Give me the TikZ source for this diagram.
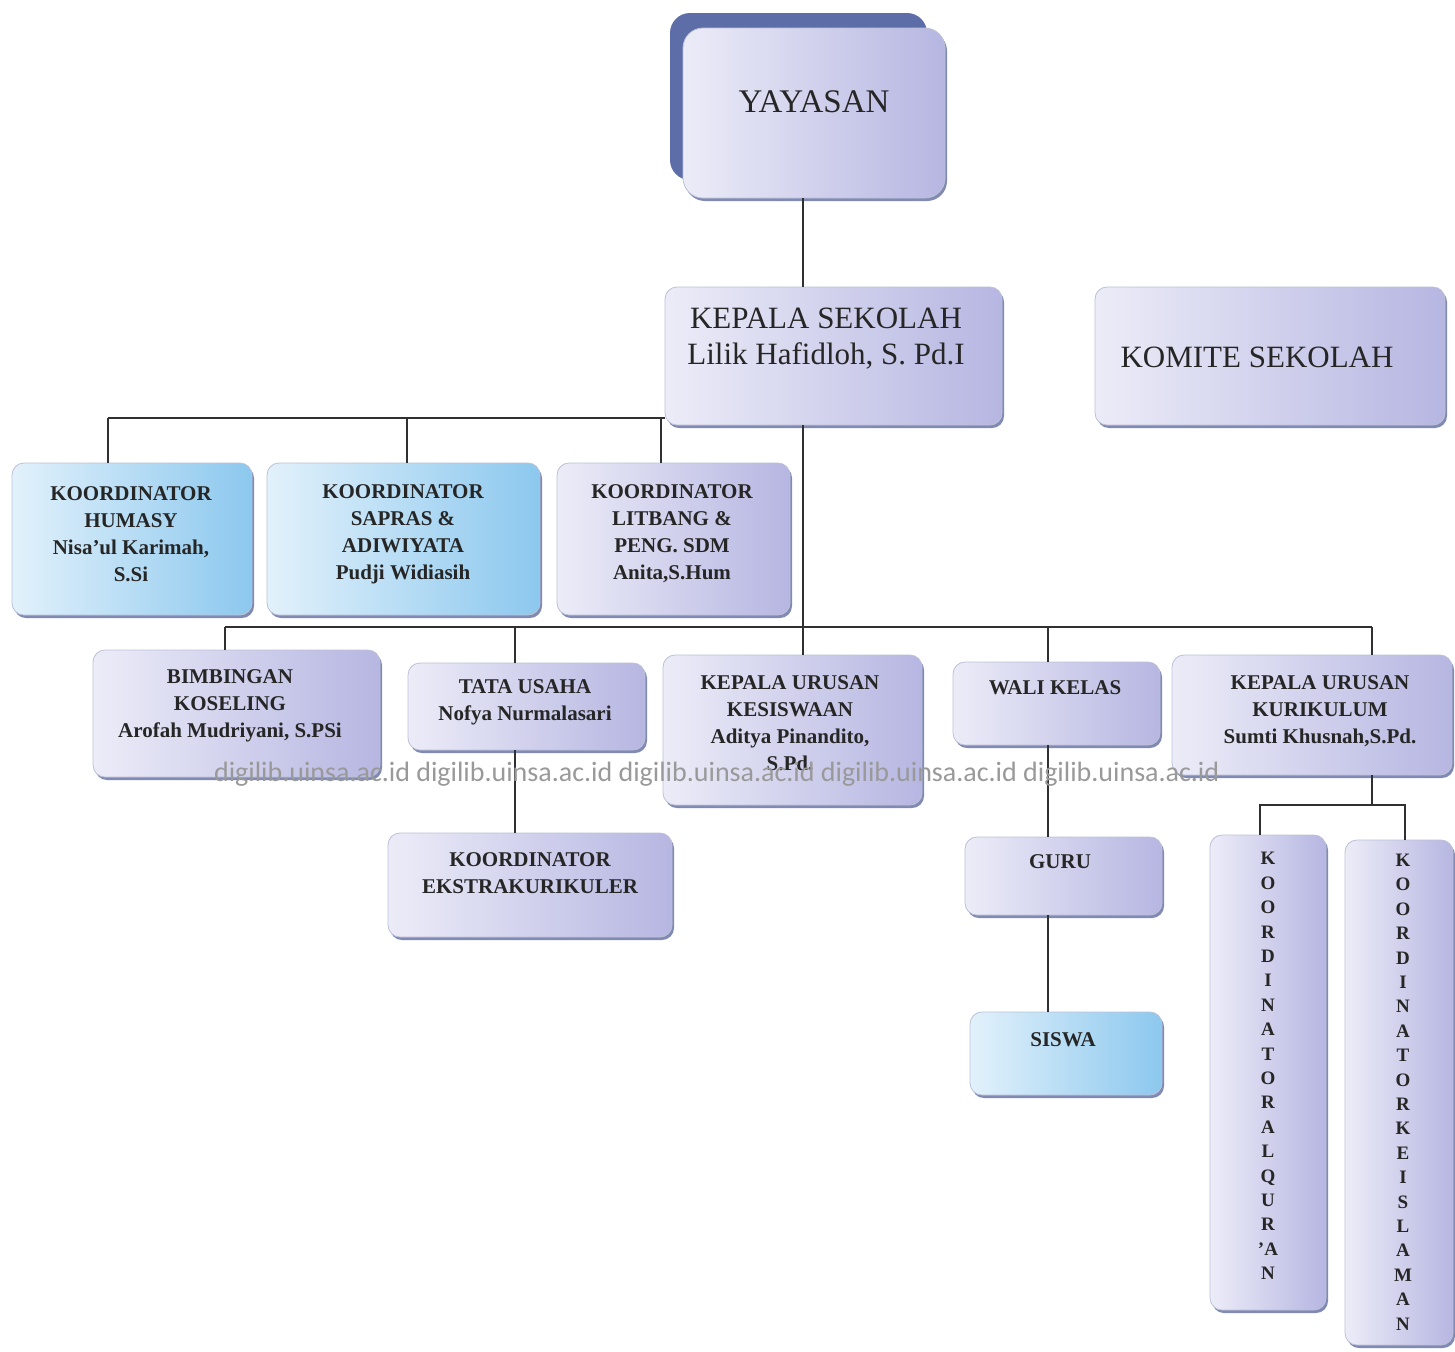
\documentclass[tikz,border=0pt]{standalone}
\usepackage{fontspec}
\setmainfont{Liberation Serif}
\newfontfamily\wmfont{Carlito}
\usetikzlibrary{shadows}
\definecolor{lavL}{HTML}{ECECF8}
\definecolor{lavR}{HTML}{B6B6E2}
\definecolor{bluL}{HTML}{E2F1FB}
\definecolor{bluR}{HTML}{8CC8EE}
\definecolor{shad}{HTML}{6A76A6}
\definecolor{yayback}{HTML}{5D6DA8}
\definecolor{conn}{HTML}{303030}
\begin{document}
\begin{tikzpicture}[x=0.5pt,y=-0.5pt,
  box/.style={rounded corners=6pt, draw=shad!45, line width=0.4pt, inner sep=0pt,
    drop shadow={shadow xshift=1pt,shadow yshift=-1.5pt,fill=shad,opacity=0.85}},
  lav/.style={box, left color=lavL, right color=lavR},
  sky/.style={box, left color=bluL, right color=bluR},
  txt/.style={align=center, font=\bfseries\fontsize{10.5}{13.5}\selectfont, text=black!85},
  big/.style={align=center, font=\fontsize{15.5}{18}\selectfont, text=black!85},
  vert/.style={align=center, font=\bfseries\fontsize{9.5}{12.2}\selectfont, text=black!85},
  link/.style={draw=conn, line width=1pt},
  wm/.style={font=\wmfont\fontsize{14}{16}\selectfont, text=black!40}]
\fill[white] (0,0) rectangle (1455,1351);
\useasboundingbox (0,0) rectangle (1455,1351);

% boxes
\node[rounded corners=10pt, fill=yayback, minimum width=128.5pt, minimum height=83.5pt] (yayback) at (798.5,96.5) {};
\node[lav, rounded corners=10pt, minimum width=131pt, minimum height=85pt] (yayasan) at (814,113) {};
\node[lav, minimum width=168.5pt, minimum height=69pt] (kepala) at (833.5,356) {};
\node[lav, minimum width=175pt, minimum height=69pt] (komite) at (1270,356) {};
\node[sky, minimum width=120pt, minimum height=76pt] (humasy) at (132,539) {};
\node[sky, minimum width=136.5pt, minimum height=76pt] (sapras) at (403.5,539) {};
\node[lav, minimum width=116.5pt, minimum height=76pt] (litbang) at (673.5,539) {};
\node[lav, minimum width=143.5pt, minimum height=63.5pt] (bimbingan) at (236.5,713.5) {};
\node[lav, minimum width=118.5pt, minimum height=43.5pt] (tatausaha) at (526.5,706.5) {};
\node[lav, minimum width=129.5pt, minimum height=75pt] (kesiswaan) at (792.5,730) {};
\node[lav, minimum width=103.5pt, minimum height=41.5pt] (walikelas) at (1056.5,703.5) {};
\node[lav, minimum width=140pt, minimum height=60pt] (kurikulum) at (1312,715) {};
\node[lav, minimum width=142pt, minimum height=52pt] (ekstra) at (530,885) {};
\node[lav, minimum width=98.5pt, minimum height=39pt] (guru) at (1063.5,876) {};
\node[sky, minimum width=96pt, minimum height=41.5pt] (siswa) at (1066,1053.5) {};
\node[lav, minimum width=58pt, minimum height=237.5pt] (quran) at (1268,1072.5) {};
\node[lav, minimum width=54pt, minimum height=252.5pt] (keislaman) at (1399,1092.5) {};

% texts
\node[big, font=\fontsize{16.5}{18}\selectfont] (yayasan-t) at (814,102) {YAYASAN};
\node[big] (kepala-t) at (826,339) {KEPALA SEKOLAH\\Lilik Hafidloh, S. Pd.I};
\node[big] (komite-t) at (1257,357) {KOMITE SEKOLAH};
\node[txt] (humasy-t) at (131,534) {KOORDINATOR\\HUMASY\\Nisa'ul Karimah,\\S.Si};
\node[txt] (sapras-t) at (403,534) {KOORDINATOR\\SAPRAS \&\\ADIWIYATA\\Pudji Widiasih};
\node[txt] (litbang-t) at (672,534) {KOORDINATOR\\LITBANG \&\\PENG. SDM\\Anita,S.Hum};
\node[txt] (bimbingan-t) at (230,706) {BIMBINGAN\\KOSELING\\Arofah Mudriyani, S.PSi};
\node[txt] (tatausaha-t) at (525,702) {TATA USAHA\\Nofya Nurmalasari};
\node[txt] (kesiswaan-t) at (790,723) {KEPALA URUSAN\\KESISWAAN\\Aditya Pinandito,\\S.Pd.};
\node[txt] (walikelas-t) at (1055,688) {WALI KELAS};
\node[txt] (kurikulum-t) at (1320,711) {KEPALA URUSAN\\KURIKULUM\\Sumti Khusnah,S.Pd.};
\node[txt] (ekstra-t) at (530,873) {KOORDINATOR\\EKSTRAKURIKULER};
\node[txt] (guru-t) at (1060,862) {GURU};
\node[txt] (siswa-t) at (1063,1040) {SISWA};
\node[vert] (quran-t) at (1268,1066) {K\\O\\O\\R\\D\\I\\N\\A\\T\\O\\R\\A\\L\\Q\\U\\R\\'A\\N};
\node[vert] (keislaman-t) at (1403,1092) {K\\O\\O\\R\\D\\I\\N\\A\\T\\O\\R\\K\\E\\I\\S\\L\\A\\M\\A\\N};

% connectors
\coordinate (spine) at (803,627);
\coordinate (dhum) at (108,418);
\coordinate (dsap) at (407,418);
\coordinate (dlit) at (661,418);
\coordinate (dbim) at (225,627);
\coordinate (dtu) at (515,627);
\coordinate (dwk) at (1048,627);
\coordinate (dkur) at (1372,627);
\coordinate (dkk) at (1372,805);
\coordinate (dq) at (1260,805);
\coordinate (di) at (1405,805);
\draw[link] (yayasan.south -| spine) -- (kepala.north -| spine);
\draw[link] (kepala.south -| spine) -- (spine);
\draw[link] (dhum) -- (dhum -| kepala.west);
\foreach \d/\n in {dhum/humasy,dsap/sapras,dlit/litbang}
  \draw[link] (\d) -- (\d |- \n.north);
\draw[link] (dbim) -- (dkur);
\foreach \d/\n in {dbim/bimbingan,dtu/tatausaha,spine/kesiswaan,dwk/walikelas,dkur/kurikulum}
  \draw[link] (\d) -- (\d |- \n.north);
\draw[link] (tatausaha.south -| dtu) -- (dtu |- ekstra.north);
\draw[link] (walikelas.south -| dwk) -- (dwk |- guru.north);
\draw[link] (guru.south -| dwk) -- (dwk |- siswa.north);
\draw[link] (kurikulum.south -| dkk) -- (dkk);
\draw[link] (dq |- quran.north) -- (dq) -- (di) -- (di |- keislaman.north);

\node[wm] (wmark) at (717,774) {digilib.uinsa.ac.id digilib.uinsa.ac.id digilib.uinsa.ac.id digilib.uinsa.ac.id digilib.uinsa.ac.id};
\end{tikzpicture}
\end{document}
